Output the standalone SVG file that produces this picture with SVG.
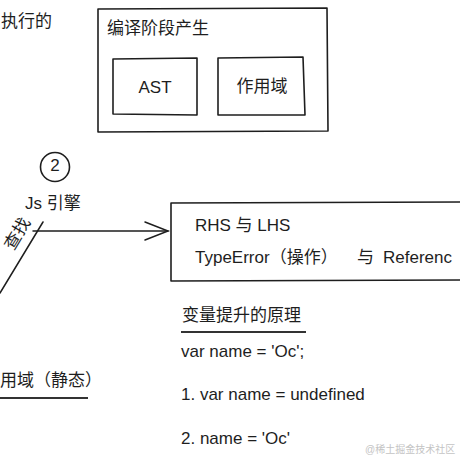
<svg xmlns="http://www.w3.org/2000/svg" width="460" height="460" viewBox="0 0 460 460">
<style>
text{font-family:"Liberation Sans","Noto Sans CJK SC",sans-serif;fill:#1e1e1e;font-size:17px}
.box{fill:none;stroke:#1e1e1e;stroke-width:1.6;stroke-linejoin:round}
.ln{fill:none;stroke:#1e1e1e;stroke-width:1.5;stroke-linecap:round}
.ul{fill:none;stroke:#333;stroke-width:2}
.wm{font-size:10px;fill:#c4c4c4}
</style>
<rect width="460" height="460" fill="#fff"/>
<g id="top-note"><text x="1" y="27">执行的</text></g>
<g id="compile-box">
<path class="box" d="M98 9 L327 8 L328 131 L98 132 Z"/>
<text x="107" y="34">编译阶段产生</text>
</g>
<g id="ast-node">
<path class="box" d="M113 59 L197 58 L197 115 L113 114 Z"/>
<text x="155" y="93" text-anchor="middle">AST</text>
</g>
<g id="scope-node">
<path class="box" d="M218 58 L303 57 L305 115 L218 115 Z"/>
<text x="262" y="92" text-anchor="middle">作用域</text>
</g>
<g id="step-2">
<circle cx="55" cy="167" r="14.5" fill="none" stroke="#1e1e1e" stroke-width="1.6"/>
<text x="55" y="171" text-anchor="middle" font-size="11">2</text>
</g>
<g id="js-engine"><text x="25" y="209">Js 引擎</text></g>
<g id="lookup-label"><text transform="translate(31,222) rotate(-59)" text-anchor="end" font-size="16">查找</text></g>
<g id="rhs-box">
<path class="box" d="M171 203 L470 202 L470 280 L171 281 Z"/>
<text x="195" y="231">RHS 与 LHS</text>
<text y="263"><tspan x="195">TypeError（操作）</tspan><tspan x="357">与</tspan><tspan x="383">Referenc</tspan></text>
</g>
<g id="hoisting">
<text x="182" y="321">变量提升的原理</text>
<line class="ul" x1="181" y1="332" x2="306" y2="332"/>
<text x="181" y="357">var name = 'Oc';</text>
<text x="181" y="400">1. var name = undefined</text>
<text x="181" y="444">2. name = 'Oc'</text>
</g>
<g id="static-scope">
<text x="0" y="386">用域（静态）</text>
<line class="ul" x1="0" y1="398" x2="88" y2="398"/>
</g>
<g id="connectors">
<line class="ln" x1="43" y1="222" x2="0" y2="293"/>
<line class="ln" x1="33" y1="231" x2="168" y2="231"/>
<polyline class="ln" points="145,222 168,231 145,240"/>
</g>
<text class="wm" x="365" y="453">@稀土掘金技术社区</text>
</svg>
